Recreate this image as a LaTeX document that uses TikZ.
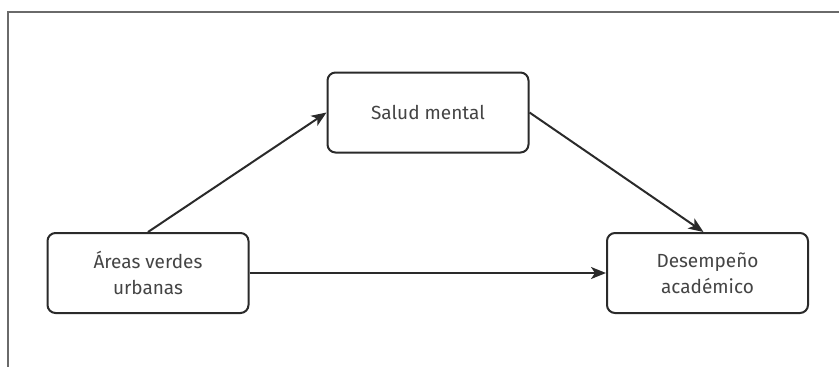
\documentclass[tikz,border=0pt]{standalone}
\usepackage{fontspec}
\setmainfont{Fira Sans}
\usetikzlibrary{arrows.meta}
\definecolor{linec}{HTML}{2A2A2A}
\definecolor{framec}{HTML}{6A6A6A}
\definecolor{textc}{HTML}{444444}
\begin{document}
\begin{tikzpicture}[x=1pt,y=-1pt,
  varbox/.style={draw=linec, line width=2pt, rounded corners=8pt, fill=white,
    minimum width=201pt, minimum height=80pt, align=center,
    font=\fontsize{19}{26}\selectfont, text=textc, inner sep=0pt},
  conn/.style={draw=linec, line width=2pt, -{Stealth[length=15pt,width=12pt,inset=4pt]}}]
\useasboundingbox (0,0) rectangle (839,367);
\draw[framec, line width=2pt] (8,367) -- (8,12) -- (839,12);
\node[varbox] (salud) at (428,112.5) {Salud mental};
\node[varbox] (areas) at (148,273) {Áreas verdes\\urbanas};
\node[varbox] (desem) at (707.5,273) {Desempeño\\académico};
\draw[conn] (areas.north) -- (salud.west);
\draw[conn] (salud.east) -- ([xshift=-4pt]desem.north);
\draw[conn] (areas.east) -- (desem.west);
\end{tikzpicture}
\end{document}
